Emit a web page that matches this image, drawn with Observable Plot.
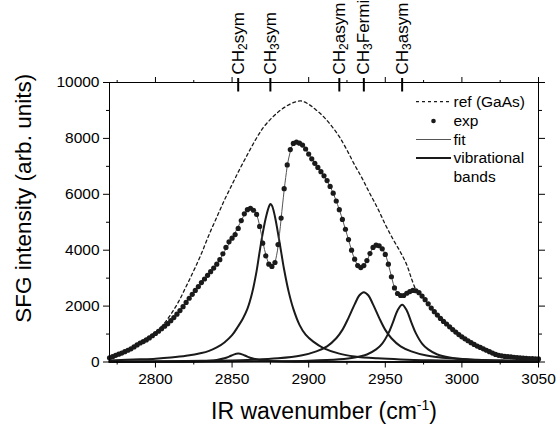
<!DOCTYPE html>
<html><head><meta charset="utf-8">
<script src="https://cdn.jsdelivr.net/npm/d3@7"></script>
<script src="https://cdn.jsdelivr.net/npm/@observablehq/plot@0.6"></script>
<style>
body{margin:0;background:#fff}
svg{font-family:"Liberation Sans",Arial,sans-serif}
</style>
</head><body><div id="chart"></div>
<script>
// ---- data ----
const xMajor = [2800, 2850, 2900, 2950, 3000, 3050];
const xMinor = [2775, 2825, 2875, 2925, 2975, 3025];
const yMajor = [0, 2000, 4000, 6000, 8000, 10000];
const yMinor = [1000, 3000, 5000, 7000, 9000];

const modeNames = ["CH2sym", "CH3sym", "CH2asym", "CH3Fermi", "CH3asym"];
const modeW = [2854, 2875, 2920, 2936, 2961];

const expW = [2770,2772,2774,2776,2778,2780,2782,2784,2786,2788,2790,2792,2794,2796,2798,2800,2802,2804,2806,2808,2810,2812,2814,2816,2818,2820,2822,2824,2826,2828,2830,2832,2834,2836,2838,2840,2842,2844,2846,2848,2850,2852,2854,2856,2858,2860,2862,2864,2866,2868,2870,2872,2874,2876,2878,2880,2882,2884,2886,2888,2890,2892,2894,2896,2898,2900,2902,2904,2906,2908,2910,2912,2914,2916,2918,2920,2922,2924,2926,2928,2930,2932,2934,2936,2938,2940,2942,2944,2946,2948,2950,2952,2954,2956,2958,2960,2962,2964,2966,2968,2970,2972,2974,2976,2978,2980,2982,2984,2986,2988,2990,2992,2994,2996,2998,3000,3002,3004,3006,3008,3010,3012,3014,3016,3018,3020,3022,3024,3026,3028,3030,3032,3034,3036,3038,3040,3042,3044,3046,3048,3050];
const expI = [150,190,240,280,320,370,420,470,540,610,680,730,790,860,940,1020,1100,1190,1280,1370,1480,1590,1710,1840,1980,2130,2280,2420,2560,2700,2840,2970,3100,3230,3360,3500,3660,3870,4100,4300,4430,4560,4780,5060,5300,5450,5500,5430,5280,4850,4250,3800,3500,3420,3560,4200,5150,6200,7050,7600,7820,7870,7830,7760,7620,7440,7270,7110,6960,6810,6660,6490,6280,6040,5760,5450,5100,4750,4380,4000,3680,3450,3380,3450,3630,3880,4100,4180,4160,4050,3850,3500,3050,2650,2450,2380,2380,2460,2520,2560,2550,2480,2360,2230,2080,1930,1800,1680,1560,1450,1360,1260,1160,1070,980,900,830,760,690,630,570,520,470,420,370,320,270,240,220,200,190,180,170,160,150,140,130,125,120,115,110];

const fitW = [2770,2775,2780,2785,2790,2795,2800,2805,2810,2815,2820,2825,2830,2835,2840,2845,2850,2855,2860,2863,2866,2869,2872,2875,2877,2879,2881,2883,2885,2887,2890,2893,2896,2900,2905,2910,2915,2920,2925,2930,2933,2935,2938,2941,2944,2947,2950,2953,2956,2959,2962,2966,2969,2972,2976,2980,2985,2990,2995,3000,3005,3010,3015,3020,3025,3030,3040,3050];
const fitI = [140,260,380,510,680,830,1030,1240,1490,1780,2130,2490,2840,3170,3500,3950,4420,4950,5420,5480,5260,4600,3850,3430,3450,3800,4600,5650,6600,7300,7800,7880,7760,7440,7020,6650,6160,5450,4560,3680,3400,3400,3620,4000,4180,4110,3850,3280,2680,2400,2380,2520,2560,2480,2230,1930,1620,1360,1110,900,720,570,440,320,230,190,140,110];

const refW = [2770,2780,2790,2800,2805,2810,2815,2820,2825,2830,2835,2840,2845,2850,2855,2860,2865,2870,2875,2880,2885,2890,2895,2900,2905,2910,2915,2920,2925,2930,2935,2940,2945,2950,2955,2960,2964,2967,2970];
const refI = [150,370,690,1060,1330,1700,2150,2700,3270,3880,4560,5180,5790,6350,6900,7420,7920,8360,8680,8940,9140,9280,9340,9220,9010,8760,8440,8060,7580,7050,6560,6020,5500,4920,4400,3920,3480,3000,2560];

const band2854W = [2770,2800,2825,2835,2840,2845,2848,2851,2854,2857,2860,2863,2868,2873,2883,2910,2950,3050];
const band2854I = [3,7,21,45,74,132,192,265,300,265,192,132,74,45,21,8,4,2];

const band2875W = [2770,2790,2800,2810,2820,2830,2835,2840,2845,2850,2854,2857,2860,2863,2866,2868,2870,2872,2874,2875,2876,2878,2880,2882,2884,2887,2890,2894,2898,2903,2910,2920,2930,2945,2960,2980,3000,3050];
const band2875I = [55,95,120,160,220,320,400,520,700,960,1280,1550,1900,2450,3250,3950,4600,5150,5550,5650,5600,5200,4600,3950,3300,2500,1900,1330,980,730,490,300,200,130,90,60,45,25];

const band2936W = [2770,2800,2830,2860,2880,2895,2905,2912,2918,2922,2926,2930,2933,2936,2939,2942,2946,2950,2954,2960,2967,2977,2992,3010,3030,3050];
const band2936I = [20,30,45,75,130,230,380,560,850,1150,1580,2060,2380,2500,2380,2060,1580,1150,850,560,380,230,130,80,55,40];

const band2961W = [2770,2830,2870,2900,2920,2930,2938,2944,2948,2952,2955,2958,2961,2964,2967,2970,2974,2978,2984,2992,3002,3020,3050];
const band2961I = [5,12,25,45,95,160,270,450,660,1025,1420,1845,2050,1845,1420,1025,660,450,270,160,95,45,20];

// ---- build tables ----
const zip = (W, I) => W.map((w, i) => ({w, v: I[i]}));
const exp = zip(expW, expI);
const fit = zip(fitW, fitI);
const ref = zip(refW, refI);
const bands = [
  ...zip(band2854W, band2854I).map(d => ({...d, band: "2854"})),
  ...zip(band2875W, band2875I).map(d => ({...d, band: "2875"})),
  ...zip(band2936W, band2936I).map(d => ({...d, band: "2936"})),
  ...zip(band2961W, band2961I).map(d => ({...d, band: "2961"}))
];
const modes = modeNames.map((name, i) => ({name, w: modeW[i]}));

const ink = "#1a1a1a";
const chart = Plot.plot({
  width: 557, height: 427,
  marginLeft: 109, marginRight: 19, marginTop: 82, marginBottom: 65.5,
  x: {domain: [2770, 3050]},
  y: {domain: [0, 10000]},
  style: {fontFamily: "Liberation Sans, Arial, sans-serif", fontSize: "15.5px", color: "#000", background: "#fff"},
  marks: [
    Plot.line(bands, {x: "w", y: "v", z: "band", stroke: ink, strokeWidth: 2, curve: "catmull-rom"}),
    Plot.line(ref, {x: "w", y: "v", stroke: ink, strokeWidth: 1.3, strokeDasharray: "3,3", curve: "catmull-rom"}),
    Plot.line(fit, {x: "w", y: "v", stroke: "#555", strokeWidth: 1, curve: "catmull-rom"}),
    Plot.dot(exp, {x: "w", y: "v", r: 2.6, fill: ink, stroke: "none"}),
    Plot.frame({stroke: "#000", strokeWidth: 1}),
    Plot.axisX({ticks: xMajor, tickSize: 6, tickPadding: 5, tickFormat: d => String(d), label: null, fontSize: 15.5}),
    Plot.axisX({ticks: xMinor, tickSize: 3, tickFormat: () => "", label: null}),
    Plot.axisX({anchor: "top", ticks: xMajor, tickSize: 6, tickFormat: () => "", label: null}),
    Plot.axisX({anchor: "top", ticks: xMinor, tickSize: 3, tickFormat: () => "", label: null}),
    Plot.axisY({ticks: yMajor, tickSize: 6, tickPadding: 4, tickFormat: d => String(d), label: null, fontSize: 15.5}),
    Plot.axisY({ticks: yMinor, tickSize: 3, tickFormat: () => "", label: null}),
    Plot.axisY({anchor: "right", ticks: yMajor, tickSize: 6, tickFormat: () => "", label: null}),
    Plot.axisY({anchor: "right", ticks: yMinor, tickSize: 3, tickFormat: () => "", label: null}),
    Plot.ruleX(modes, {x: "w", stroke: "#000", strokeWidth: 2, insetTop: -4, insetBottom: 270}),
    Plot.text(modes, {x: "w", text: "name", frameAnchor: "top", dy: -8, rotate: -90, textAnchor: "start", lineAnchor: "middle", fontSize: 17, fill: "#000"}),
    Plot.text(["IR wavenumber (cm-1)"], {text: d => d, frameAnchor: "bottom", dy: 50, textAnchor: "middle", lineAnchor: "middle", fontSize: 23, fill: "#000"}),
    Plot.text(["SFG intensity (arb. units)"], {text: d => d, frameAnchor: "left", dx: -86, dy: -24, rotate: -90, textAnchor: "middle", lineAnchor: "middle", fontSize: 22.5, fill: "#000"})
  ]
});
document.getElementById("chart").appendChild(chart);

// subscripts / superscripts as real text
const svg = d3.select(chart);
svg.selectAll("text").each(function() {
  const t = this.textContent;
  const m = /^CH([23])(.*)$/.exec(t);
  if (m) {
    this.setAttribute("font-size", 17);
    this.innerHTML = `CH<tspan dy="3" font-size="12">${m[1]}</tspan><tspan dy="-3">${m[2]}</tspan>`;
  } else if (t === "IR wavenumber (cm-1)") {
    this.innerHTML = `IR wavenumber (cm<tspan dy="-9" font-size="14">-1</tspan><tspan dy="9">)</tspan>`;
  }
});

// legend (decoration, inside the frame at top right)
const lg = svg.append("g").attr("font-size", 15.5).attr("fill", "#000").attr("text-anchor", "start");
lg.append("line").attr("x1", 416).attr("x2", 451).attr("y1", 101.7).attr("y2", 101.7)
  .attr("stroke", ink).attr("stroke-width", 1.3).attr("stroke-dasharray", "3,3");
lg.append("text").attr("x", 453.5).attr("y", 106.5).text("ref (GaAs)");
lg.append("circle").attr("cx", 433.5).attr("cy", 121).attr("r", 2.3).attr("fill", ink);
lg.append("text").attr("x", 453.5).attr("y", 125.5).text("exp");
lg.append("line").attr("x1", 416).attr("x2", 451).attr("y1", 139.5).attr("y2", 139.5)
  .attr("stroke", "#555").attr("stroke-width", 1);
lg.append("text").attr("x", 453.5).attr("y", 144.5).text("fit");
lg.append("line").attr("x1", 416).attr("x2", 451).attr("y1", 158).attr("y2", 158)
  .attr("stroke", ink).attr("stroke-width", 2);
lg.append("text").attr("x", 453.5).attr("y", 163).text("vibrational");
lg.append("text").attr("x", 453.5).attr("y", 181.5).text("bands");
</script>
</body></html>
